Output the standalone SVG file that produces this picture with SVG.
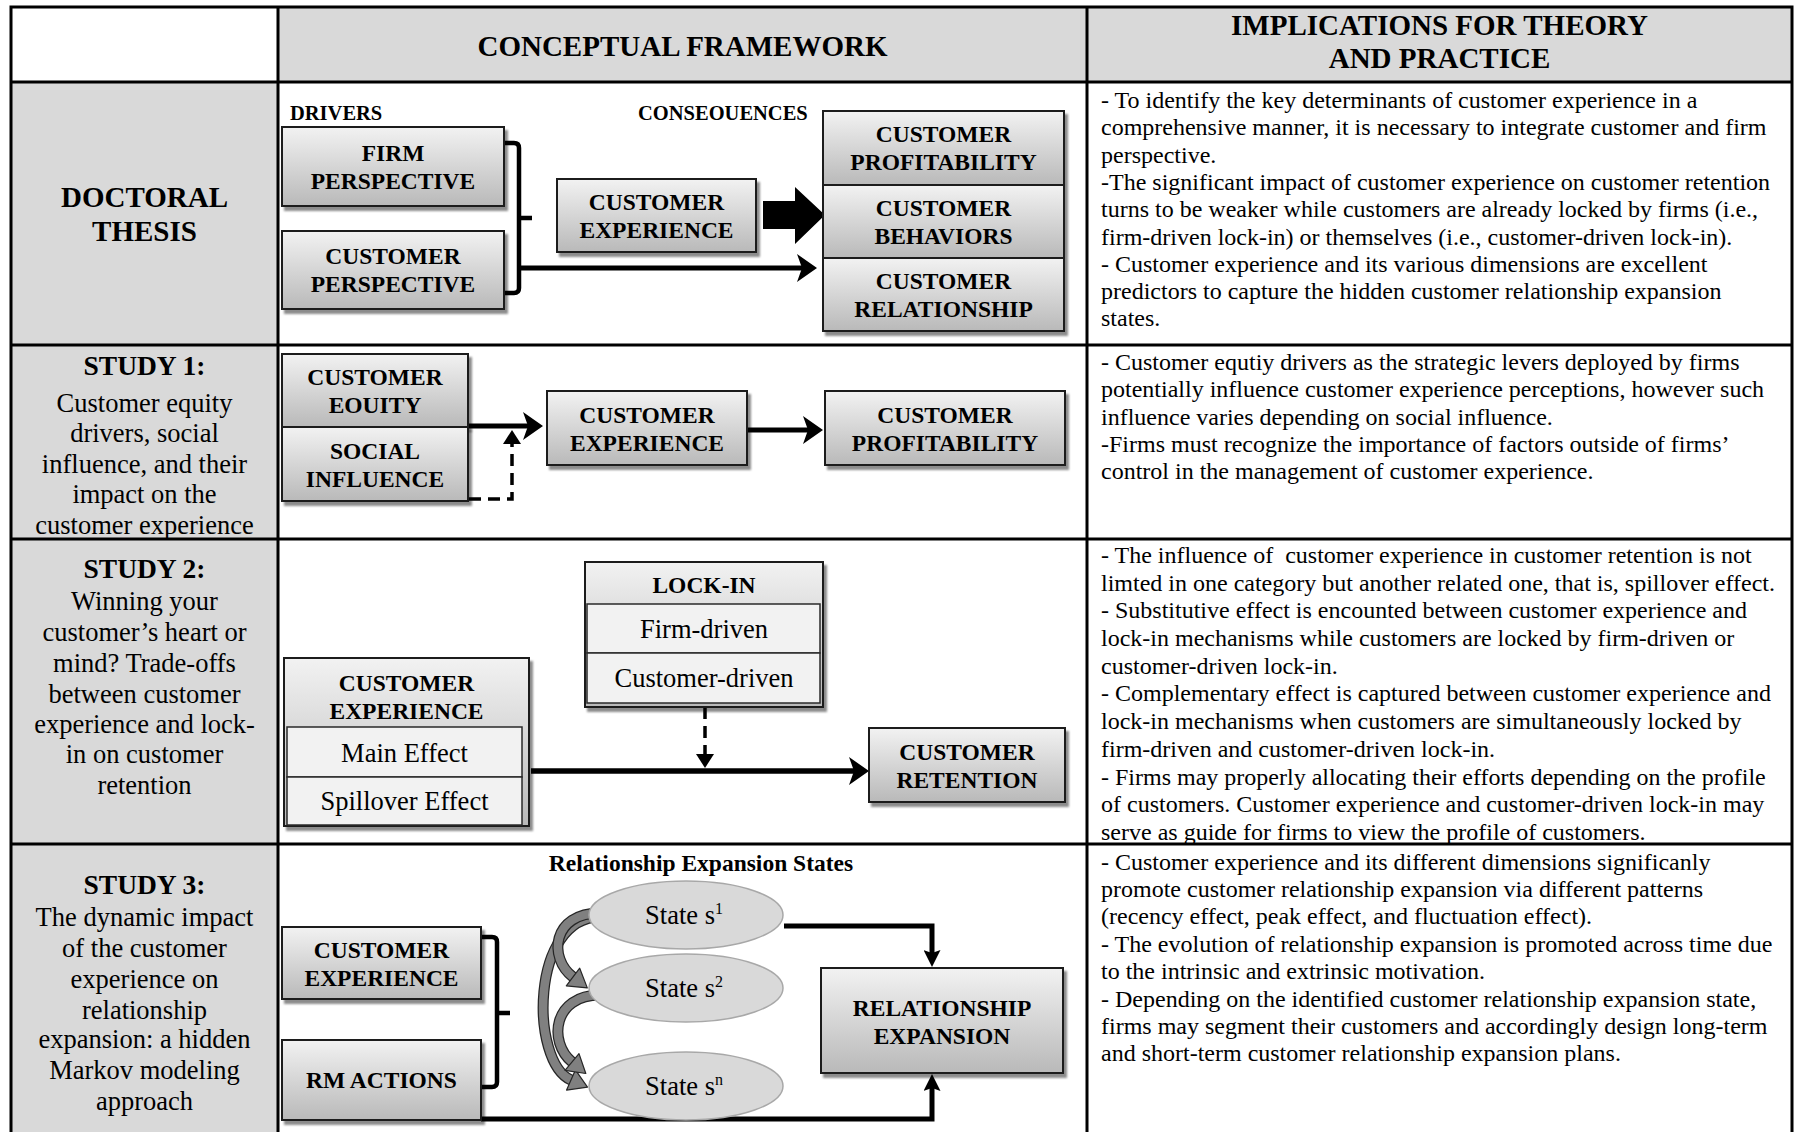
<svg xmlns="http://www.w3.org/2000/svg" width="1795" height="1132" viewBox="0 0 1795 1132">
  <style>
    text { font-family: "Liberation Serif", "Times New Roman", serif; fill: #000; }
    .hd { font-size: 29px; font-weight: bold; text-anchor: middle; }
    .st { font-size: 27.5px; font-weight: bold; text-anchor: middle; }
    .lt { font-size: 26.5px; text-anchor: middle; }
    .tb { font-size: 23.5px; font-weight: bold; text-anchor: middle; }
    .tr { font-size: 26.5px; text-anchor: middle; }
    .sm { font-size: 20.5px; font-weight: bold; }
    .rt { font-size: 24px; }
    .grid { stroke: #000; stroke-width: 3; fill: none; }
    .box { fill: url(#gBox); stroke: #1c1c1c; stroke-width: 2; }
    .cell { fill: #f2f2f2; stroke: #2a2a2a; stroke-width: 1.5; }
    .state { fill: #d9d9d9; stroke: #a8a8a8; stroke-width: 1.5; }
    .ln { stroke: #000; stroke-width: 5; fill: none; }
    .br { stroke: #000; stroke-width: 4.5; fill: none; stroke-linejoin: round; }
    .dash { stroke: #000; stroke-width: 3.5; fill: none; stroke-dasharray: 12 7; }
    .cv-o { stroke: #262626; stroke-width: 11; fill: none; }
    .cv { stroke: #808080; stroke-width: 8.5; fill: none; }
    .cvh { fill: #808080; stroke: #262626; stroke-width: 1.2; stroke-linejoin: round; }
  </style>
  <defs>
    <linearGradient id="gBox" x1="0" y1="0" x2="0" y2="1">
      <stop offset="0" stop-color="#f2f2f2"/>
      <stop offset="1" stop-color="#b9b9b9"/>
    </linearGradient>
    <filter id="shadow" x="-10%" y="-10%" width="125%" height="135%">
      <feDropShadow dx="3" dy="4" stdDeviation="1.2" flood-color="#000" flood-opacity="0.45"/>
    </filter>
    <marker id="ahL" markerUnits="userSpaceOnUse" viewBox="0 0 20 28" refX="8" refY="14" markerWidth="20" markerHeight="28" orient="auto">
      <path d="M0,0 L20,14 L0,28 L5,14 Z" fill="#000"/>
    </marker>
    <marker id="ahV" markerUnits="userSpaceOnUse" viewBox="0 0 17 17" refX="6" refY="8.5" markerWidth="17" markerHeight="17" orient="auto">
      <path d="M0,0 L17,8.5 L0,17 L3,8.5 Z" fill="#000"/>
    </marker>
    <marker id="ahD" markerUnits="userSpaceOnUse" viewBox="0 0 14 18" refX="3" refY="9" markerWidth="14" markerHeight="18" orient="auto">
      <path d="M0,0 L14,9 L0,18 Z" fill="#000"/>
    </marker>
  </defs>

  <!-- table frame and row labels -->
  <g id="table">
    <rect x="0" y="0" width="1795" height="1132" fill="#fff"/>
    <rect x="278" y="7" width="1514" height="75" fill="#d9d9d9"/>
    <rect x="11" y="82" width="267" height="1050" fill="#d9d9d9"/>
    <path class="grid" d="M11,1132 V7 H1792 V1132 M278,7 V1132 M1087,7 V1132 M11,82 H1792 M11,345 H1792 M11,539 H1792 M11,844 H1792"/>
    <text class="hd" x="682.5" y="56">CONCEPTUAL FRAMEWORK</text>
    <text class="hd" x="1439.5" y="35">IMPLICATIONS FOR THEORY</text>
    <text class="hd" x="1439.5" y="68">AND PRACTICE</text>
    <g id="row-thesis">
      <text class="hd" x="144.5" y="207">DOCTORAL</text>
      <text class="hd" x="144.5" y="241">THESIS</text>
    </g>
    <g id="row-study1">
      <text class="st" x="144.5" y="375">STUDY 1:</text>
      <text class="lt" x="144.5"><tspan x="144.5" y="412">Customer equity</tspan><tspan x="144.5" y="442">drivers, social</tspan><tspan x="144.5" y="473">influence, and their</tspan><tspan x="144.5" y="503">impact on the</tspan><tspan x="144.5" y="534">customer experience</tspan></text>
    </g>
    <g id="row-study2">
      <text class="st" x="144.5" y="578">STUDY 2:</text>
      <text class="lt" x="144.5"><tspan x="144.5" y="610">Winning your</tspan><tspan x="144.5" y="641">customer’s heart or</tspan><tspan x="144.5" y="672">mind? Trade-offs</tspan><tspan x="144.5" y="703">between customer</tspan><tspan x="144.5" y="733">experience and lock-</tspan><tspan x="144.5" y="763">in on customer</tspan><tspan x="144.5" y="794">retention</tspan></text>
    </g>
    <g id="row-study3">
      <text class="st" x="144.5" y="894">STUDY 3:</text>
      <text class="lt" x="144.5"><tspan x="144.5" y="926">The dynamic impact</tspan><tspan x="144.5" y="957">of the customer</tspan><tspan x="144.5" y="988">experience on</tspan><tspan x="144.5" y="1019">relationship</tspan><tspan x="144.5" y="1048">expansion: a hidden</tspan><tspan x="144.5" y="1079">Markov modeling</tspan><tspan x="144.5" y="1110">approach</tspan></text>
    </g>
  </g>

  <!-- implications column -->
  <g id="implications">
    <text id="impl-thesis" class="rt"><tspan x="1101" y="108">- To identify the key determinants of customer experience in a</tspan><tspan x="1101" y="135">comprehensive manner, it is necessary to integrate customer and firm</tspan><tspan x="1101" y="163">perspective.</tspan><tspan x="1101" y="190">-The significant impact of customer experience on customer retention</tspan><tspan x="1101" y="217">turns to be weaker while customers are already locked by firms (i.e.,</tspan><tspan x="1101" y="245">firm-driven lock-in) or themselves (i.e., customer-driven lock-in).</tspan><tspan x="1101" y="272">- Customer experience and its various dimensions are excellent</tspan><tspan x="1101" y="299">predictors to capture the hidden customer relationship expansion</tspan><tspan x="1101" y="326">states.</tspan></text>
    <text id="impl-study1" class="rt"><tspan x="1101" y="370">- Customer equtiy drivers as the strategic levers deployed by firms</tspan><tspan x="1101" y="397">potentially influence customer experience perceptions, however such</tspan><tspan x="1101" y="425">influence varies depending on social influence.</tspan><tspan x="1101" y="452">-Firms must recognize the importance of factors outside of firms’</tspan><tspan x="1101" y="479">control in the management of customer experience.</tspan></text>
    <text id="impl-study2" class="rt"><tspan x="1101" y="563">- The influence of &#160;customer experience in customer retention is not</tspan><tspan x="1101" y="591">limted in one category but another related one, that is, spillover effect.</tspan><tspan x="1101" y="618">- Substitutive effect is encounted between customer experience and</tspan><tspan x="1101" y="646">lock-in mechanisms while customers are locked by firm-driven or</tspan><tspan x="1101" y="674">customer-driven lock-in.</tspan><tspan x="1101" y="701">- Complementary effect is captured between customer experience and</tspan><tspan x="1101" y="729">lock-in mechanisms when customers are simultaneously locked by</tspan><tspan x="1101" y="757">firm-driven and customer-driven lock-in.</tspan><tspan x="1101" y="785">- Firms may properly allocating their efforts depending on the profile</tspan><tspan x="1101" y="812">of customers. Customer experience and customer-driven lock-in may</tspan><tspan x="1101" y="840">serve as guide for firms to view the profile of customers.</tspan></text>
    <text id="impl-study3" class="rt"><tspan x="1101" y="870">- Customer experience and its different dimensions significanly</tspan><tspan x="1101" y="897">promote customer relationship expansion via different patterns</tspan><tspan x="1101" y="924">(recency effect, peak effect, and fluctuation effect).</tspan><tspan x="1101" y="952">- The evolution of relationship expansion is promoted across time due</tspan><tspan x="1101" y="979">to the intrinsic and extrinsic motivation.</tspan><tspan x="1101" y="1007">- Depending on the identified customer relationship expansion state,</tspan><tspan x="1101" y="1034">firms may segment their customers and accordingly design long-term</tspan><tspan x="1101" y="1061">and short-term customer relationship expansion plans.</tspan></text>
  </g>

  <!-- connectors -->
  <g id="connectors">
    <!-- thesis: drivers bracket and flows -->
    <path class="br" d="M504,143 H514 Q519,143 519,148 V288 Q519,293 514,293 H504 M519,218 H532"/>
    <path class="ln" d="M519,268 H805" marker-end="url(#ahL)"/>
    <polygon points="763,201 795,201 795,187 825,215 795,244 795,229 763,229" fill="#000"/>
    <!-- study 1 -->
    <path class="ln" d="M468,426 H531" marker-end="url(#ahL)"/>
    <path class="dash" d="M469,499 H512 V441" marker-end="url(#ahD)"/>
    <path class="ln" d="M747,430 H811" marker-end="url(#ahL)"/>
    <!-- study 2 -->
    <path class="ln" style="stroke-width:5.5" d="M531,771 H857" marker-end="url(#ahL)"/>
    <path class="dash" d="M705,707 V757" marker-end="url(#ahD)"/>
    <!-- study 3 -->
    <path class="br" d="M481,937 H492 Q497,937 497,942 V1082 Q497,1087 492,1087 H481 M497,1013 H510"/>
    <path class="ln" d="M784,926 H932 V956" marker-end="url(#ahV)"/>
    <path class="ln" d="M481,1119 H932 V1085" marker-end="url(#ahV)"/>
    <g id="state-transitions">
      <path class="cv-o" d="M600,917 C530,917 530,1062 571,1080"/>
      <path class="cv" d="M600,917 C530,917 530,1062 571,1080"/>
      <polygon class="cvh" points="566.6,1090.1 587.5,1087.2 575.4,1069.9"/>
      <path class="cv-o" d="M600,913 C552,913 548,958 573,977"/>
      <path class="cv" d="M600,913 C552,913 548,958 573,977"/>
      <polygon class="cvh" points="566.3,985.8 587.3,987.9 579.7,968.2"/>
      <path class="cv-o" d="M600,995 C553,995 548,1042 572,1062"/>
      <path class="cv" d="M600,995 C553,995 548,1042 572,1062"/>
      <polygon class="cvh" points="565,1070.4 585.8,1073.5 579,1053.6"/>
    </g>
  </g>

  <!-- nodes -->
  <g id="nodes">
    <text class="sm" x="290" y="120">DRIVERS</text>
    <text class="sm" x="638" y="120">CONSEOUENCES</text>

    <g id="n-firm-perspective">
      <rect class="box" filter="url(#shadow)" x="282" y="127" width="222" height="79"/>
      <text class="tb" x="393"><tspan x="393" y="160.5">FIRM</tspan><tspan x="393" y="188.5">PERSPECTIVE</tspan></text>
    </g>
    <g id="n-customer-perspective">
      <rect class="box" filter="url(#shadow)" x="282" y="231" width="222" height="78"/>
      <text class="tb" x="393"><tspan x="393" y="264">CUSTOMER</tspan><tspan x="393" y="292">PERSPECTIVE</tspan></text>
    </g>
    <g id="n-cx-thesis">
      <rect class="box" filter="url(#shadow)" x="557" y="179" width="199" height="73"/>
      <text class="tb" x="656.5"><tspan x="656.5" y="209.5">CUSTOMER</tspan><tspan x="656.5" y="237.5">EXPERIENCE</tspan></text>
    </g>
    <g id="n-consequences" filter="url(#shadow)">
      <rect class="box" x="823" y="111" width="241" height="74"/>
      <rect class="box" x="823" y="185" width="241" height="73"/>
      <rect class="box" x="823" y="258" width="241" height="73"/>
    </g>
    <g id="n-consequence-labels">
      <text class="tb" x="943.5"><tspan x="943.5" y="142">CUSTOMER</tspan><tspan x="943.5" y="170">PROFITABILITY</tspan></text>
      <text class="tb" x="943.5"><tspan x="943.5" y="216">CUSTOMER</tspan><tspan x="943.5" y="244">BEHAVIORS</tspan></text>
      <text class="tb" x="943.5"><tspan x="943.5" y="289">CUSTOMER</tspan><tspan x="943.5" y="317">RELATIONSHIP</tspan></text>
    </g>

    <g id="n-equity">
      <rect class="box" filter="url(#shadow)" x="282" y="354" width="186" height="73"/>
      <text class="tb" x="375"><tspan x="375" y="385">CUSTOMER</tspan><tspan x="375" y="413">EOUITY</tspan></text>
    </g>
    <g id="n-social">
      <rect class="box" filter="url(#shadow)" x="282" y="427" width="186" height="74"/>
      <text class="tb" x="375"><tspan x="375" y="459">SOCIAL</tspan><tspan x="375" y="487">INFLUENCE</tspan></text>
    </g>
    <g id="n-cx-study1">
      <rect class="box" filter="url(#shadow)" x="547" y="391" width="200" height="74"/>
      <text class="tb" x="647"><tspan x="647" y="423">CUSTOMER</tspan><tspan x="647" y="451">EXPERIENCE</tspan></text>
    </g>
    <g id="n-profit-study1">
      <rect class="box" filter="url(#shadow)" x="825" y="391" width="240" height="74"/>
      <text class="tb" x="945"><tspan x="945" y="423">CUSTOMER</tspan><tspan x="945" y="451">PROFITABILITY</tspan></text>
    </g>

    <g id="n-cx-study2">
      <rect class="box" filter="url(#shadow)" x="284" y="658" width="245" height="168"/>
      <rect class="cell" x="287" y="727" width="235" height="50"/>
      <rect class="cell" x="287" y="777" width="235" height="48"/>
      <text class="tb" x="406.5"><tspan x="406.5" y="691">CUSTOMER</tspan><tspan x="406.5" y="719">EXPERIENCE</tspan></text>
      <text class="tr" x="404.5" y="762">Main Effect</text>
      <text class="tr" x="404.5" y="810">Spillover Effect</text>
    </g>
    <g id="n-lockin">
      <rect class="box" filter="url(#shadow)" x="585" y="562" width="238" height="145"/>
      <rect class="cell" x="587" y="604" width="233" height="49"/>
      <rect class="cell" x="587" y="653" width="233" height="50"/>
      <text class="tb" x="704" y="593">LOCK-IN</text>
      <text class="tr" x="704" y="638">Firm-driven</text>
      <text class="tr" x="704" y="687">Customer-driven</text>
    </g>
    <g id="n-retention">
      <rect class="box" filter="url(#shadow)" x="869" y="728" width="196" height="74"/>
      <text class="tb" x="967"><tspan x="967" y="760">CUSTOMER</tspan><tspan x="967" y="788">RETENTION</tspan></text>
    </g>

    <g id="n-cx-study3">
      <rect class="box" filter="url(#shadow)" x="282" y="927" width="199" height="72"/>
      <text class="tb" x="381.5"><tspan x="381.5" y="958">CUSTOMER</tspan><tspan x="381.5" y="986">EXPERIENCE</tspan></text>
    </g>
    <g id="n-rm-actions">
      <rect class="box" filter="url(#shadow)" x="282" y="1040" width="199" height="80"/>
      <text class="tb" x="381.5" y="1088">RM ACTIONS</text>
    </g>
    <text class="tb" x="701" y="871">Relationship Expansion States</text>
    <g id="n-state-1">
      <ellipse class="state" cx="686" cy="915" rx="97" ry="34"/>
      <text class="tr" x="684" y="924">State s<tspan dy="-10" font-size="16">1</tspan></text>
    </g>
    <g id="n-state-2">
      <ellipse class="state" cx="686" cy="988" rx="97" ry="34"/>
      <text class="tr" x="684" y="997">State s<tspan dy="-10" font-size="16">2</tspan></text>
    </g>
    <g id="n-state-n">
      <ellipse class="state" cx="686" cy="1086" rx="97" ry="34"/>
      <text class="tr" x="684" y="1095">State s<tspan dy="-10" font-size="16">n</tspan></text>
    </g>
    <g id="n-rel-expansion">
      <rect class="box" filter="url(#shadow)" x="821" y="968" width="242" height="105"/>
      <text class="tb" x="942"><tspan x="942" y="1016">RELATIONSHIP</tspan><tspan x="942" y="1044">EXPANSION</tspan></text>
    </g>
  </g>
</svg>
